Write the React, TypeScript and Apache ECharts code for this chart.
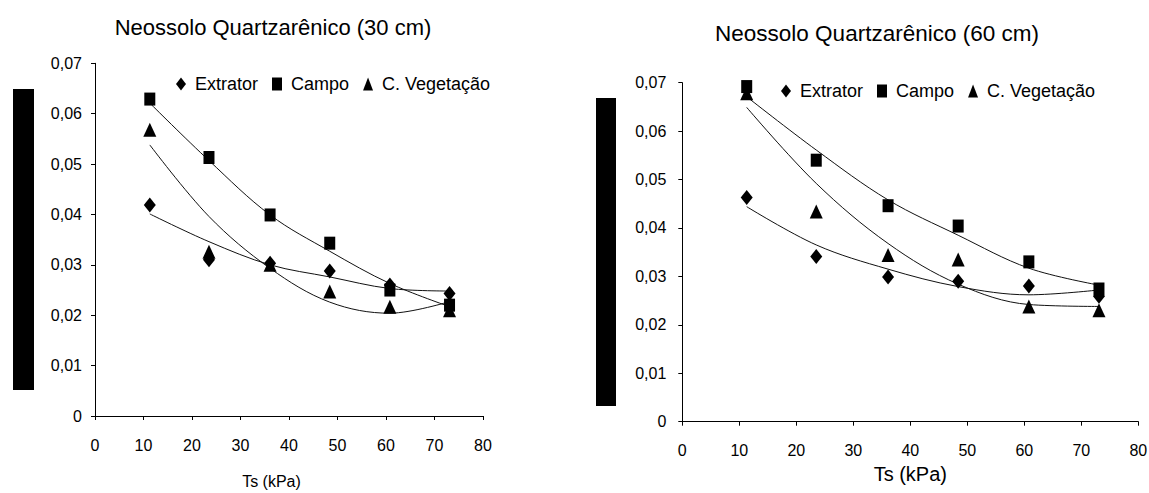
import React, { useEffect, useRef } from 'react';
import * as echarts from 'echarts';

// Tension values (kPa), shared by both panels
const TS_KPA = [11.3, 23.5, 36.1, 48.4, 60.8, 73.1];

// Neossolo Quartzarênico (30 cm) – observed
const EXTRATOR_30 = [0.0419, 0.031, 0.0303, 0.0288, 0.026, 0.0243];
const CAMPO_30 = [0.0629, 0.0513, 0.0399, 0.0343, 0.025, 0.022];
const VEGETACAO_30 = [0.0568, 0.0326, 0.030, 0.0247, 0.0217, 0.021];
// 30 cm – fitted trend lines
const FIT_EXTRATOR_30 = [0.0401, 0.0346, 0.03, 0.0276, 0.0253, 0.0248];
const FIT_CAMPO_30 = [0.0621, 0.0507, 0.0399, 0.0327, 0.0263, 0.0217];
const FIT_VEGETACAO_30 = [0.0538, 0.0396, 0.0293, 0.0226, 0.0204, 0.0227];

// Neossolo Quartzarênico (60 cm) – observed
const EXTRATOR_60 = [0.0463, 0.0341, 0.0299, 0.029, 0.028, 0.0259];
const CAMPO_60 = [0.0692, 0.054, 0.0446, 0.0404, 0.033, 0.0274];
const VEGETACAO_60 = [0.0678, 0.0434, 0.0344, 0.0335, 0.0238, 0.023];
// 60 cm – fitted trend lines
const FIT_EXTRATOR_60 = [0.0444, 0.0365, 0.0315, 0.0279, 0.0262, 0.0272];
const FIT_CAMPO_60 = [0.0671, 0.0561, 0.0458, 0.0385, 0.0317, 0.0282];
const FIT_VEGETACAO_60 = [0.0649, 0.0492, 0.0368, 0.0284, 0.0242, 0.0238];

const X_TICKS = { min: 0, max: 80, interval: 10 };
const Y_TICKS = { min: 0, max: 0.07, interval: 0.01 };

const SERIES_NAMES = ['Extrator', 'Campo', 'C. Vegetação'];
const TITLES = ['Neossolo Quartzarênico (30 cm)', 'Neossolo Quartzarênico (60 cm)'];
const X_NAME = 'Ts (kPa)';

const FONT = "'Liberation Sans', Arial, Helvetica, sans-serif";

const zip = (ys: number[]) => TS_KPA.map((x, i) => [x, ys[i]]);

const yFmt = (v: number) => (Math.abs(v) < 1e-9 ? '0' : v.toFixed(2).replace('.', ','));

function xAxis(gridIndex: number, nameSize: number, nameGap: number, namePad: number[]) {
  return {
    type: 'value',
    gridIndex,
    ...X_TICKS,
    axisLine: { show: true, onZero: false, lineStyle: { color: '#000', width: 1 } },
    axisTick: { show: true, length: 4, lineStyle: { color: '#000', width: 1 } },
    splitLine: { show: false },
    axisLabel: { fontSize: 16, color: '#000', margin: 21, fontFamily: FONT },
    name: X_NAME,
    nameLocation: 'middle',
    nameGap,
    nameTextStyle: { fontSize: nameSize, color: '#000', fontFamily: FONT, padding: namePad, verticalAlign: 'top' },
  };
}

function yAxis(gridIndex: number, margin: number) {
  return {
    type: 'value',
    gridIndex,
    ...Y_TICKS,
    axisLine: { show: true, onZero: false, lineStyle: { color: '#000', width: 1 } },
    axisTick: { show: true, length: 4, lineStyle: { color: '#000', width: 1 } },
    splitLine: { show: false },
    axisLabel: { fontSize: 16, color: '#000', margin, fontFamily: FONT, formatter: yFmt },
  };
}

const SYMBOLS: [string, number[]][] = [
  ['diamond', [12, 15]],
  ['rect', [11, 13]],
  ['triangle', [13, 14]],
];

function panelSeries(idx: number, obs: number[][], fits: number[][]) {
  const out: any[] = [];
  fits.forEach((f, k) => {
    out.push({
      type: 'line',
      name: SERIES_NAMES[k] + ' (ajuste)',
      xAxisIndex: idx,
      yAxisIndex: idx,
      data: zip(f),
      showSymbol: false,
      symbol: 'none',
      smooth: 0.35,
      lineStyle: { color: '#111', width: 1 },
      z: 2,
      silent: true,
    });
  });
  obs.forEach((o, k) => {
    out.push({
      type: 'scatter',
      name: SERIES_NAMES[k],
      xAxisIndex: idx,
      yAxisIndex: idx,
      data: zip(o),
      symbol: SYMBOLS[k][0],
      symbolSize: SYMBOLS[k][1],
      itemStyle: { color: '#000', opacity: 1 },
      z: 3,
    });
  });
  return out;
}

function legend(left: number, top: number) {
  return {
    left,
    top,
    padding: 0,
    orient: 'horizontal',
    itemGap: 14,
    itemWidth: 10,
    itemHeight: 13,
    selectedMode: false,
    textStyle: { fontSize: 18, color: '#000', fontFamily: FONT, padding: [0, 0, 0, 4] },
    data: SERIES_NAMES.map((n, k) => ({ name: n, icon: SYMBOLS[k][0], itemStyle: { color: '#000', opacity: 1 } })),
  };
}

export default function App() {
  const ref = useRef<HTMLDivElement>(null);
  useEffect(() => {
    if (!ref.current) return;
    const chart = echarts.init(ref.current, null, { renderer: 'svg' });
    const option: any = {
      animation: false,
      backgroundColor: '#fff',
      grid: [
        { left: 95, top: 63.3, width: 388, height: 352.7, containLabel: false, outerBoundsMode: 'none' },
        { left: 682.3, top: 82.7, width: 456, height: 339, containLabel: false, outerBoundsMode: 'none' },
      ],
      xAxis: [xAxis(0, 16, 57, [0, 35, 0, 0]), xAxis(1, 20, 41, [0, 0, 0, 0])],
      yAxis: [yAxis(0, 13), yAxis(1, 16)],
      legend: [legend(176, 75), legend(781, 82)],
      graphic: [
        {
          type: 'text',
          x: 273,
          y: 27,
          style: { text: TITLES[0], fontSize: 22, fontFamily: FONT, fill: '#000', align: 'center', verticalAlign: 'middle' },
        },
        {
          type: 'text',
          x: 877,
          y: 33,
          style: { text: TITLES[1], fontSize: 22.5, fontFamily: FONT, fill: '#000', align: 'center', verticalAlign: 'middle' },
        },
        { type: 'rect', shape: { x: 13, y: 89, width: 21, height: 301 }, style: { fill: '#000' } },
        { type: 'rect', shape: { x: 596, y: 98, width: 20, height: 308 }, style: { fill: '#000' } },
      ],
      series: [
        ...panelSeries(0, [EXTRATOR_30, CAMPO_30, VEGETACAO_30], [FIT_EXTRATOR_30, FIT_CAMPO_30, FIT_VEGETACAO_30]),
        ...panelSeries(1, [EXTRATOR_60, CAMPO_60, VEGETACAO_60], [FIT_EXTRATOR_60, FIT_CAMPO_60, FIT_VEGETACAO_60]),
      ],
    };
    chart.setOption(option);
    return () => chart.dispose();
  }, []);
  return (
    <div
      ref={ref}
      style={{ position: 'absolute', left: 0, top: 0, width: 1149, height: 493, background: '#fff' }}
    />
  );
}
